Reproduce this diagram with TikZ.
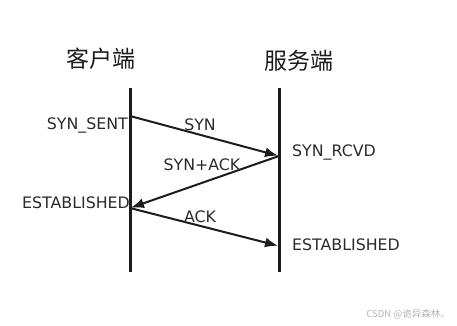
\documentclass[tikz,border=0pt]{standalone}
\usepackage{fontspec}
\setmainfont{DejaVu Sans}
\newfontfamily\cjkfont{Noto Sans CJK SC}
\usetikzlibrary{arrows.meta, positioning}
\definecolor{inkcolor}{HTML}{1C1C1C}
\definecolor{mutedtext}{HTML}{2A2A2A}
\definecolor{markcolor}{HTML}{B4B4B4}

\begin{document}
\begin{tikzpicture}[x=1pt, y=-1pt, every node/.style={font=\fontsize{15.8}{18}\selectfont, text=mutedtext, inner sep=0pt}]

\tikzset{
  timeline/.style={line width=3pt, inkcolor},
  msgline/.style={-{Latex[length=13pt, width=10pt]}, line width=2pt, inkcolor, shorten >=1pt},
  side/.style={font=\cjkfont\fontsize{23}{26}\selectfont, text=inkcolor},
  statelabel/.style={text=mutedtext},
  msglabel/.style={text=mutedtext},
  watermark/.style={font=\cjkfont\fontsize{9.5}{11}\selectfont, text=markcolor},
}

\useasboundingbox (0,0) rectangle (457,326);

% ---- the two ends ----
\coordinate (ctop) at (130,88);
\coordinate (cbot) at (130,272);
\coordinate (stop) at (279,88);
\coordinate (sbot) at (279,272);
\node[side] (client) at (101,59) {客户端};
\node[side] (server) at (299,61) {服务端};
\draw[timeline] (ctop) -- (cbot);
\draw[timeline] (stop) -- (sbot);

% ---- handshake events ----
\coordinate (c1) at (130,116);
\coordinate (s1) at (279,156);
\coordinate (c2) at (130,208);
\coordinate (s2) at (279,246);

\draw[msgline] (c1) -- (s1);
\draw[msgline] (s1) -- (c2);
\draw[msgline] (c2) -- (s2);

% ---- states ----
\node[statelabel, anchor=east] (sent) at (128,125) {SYN\_SENT};
\node[statelabel, anchor=west] (rcvd) at (292,152) {SYN\_RCVD};
\node[statelabel, anchor=east] (cest) at (130,203) {ESTABLISHED};
\node[statelabel, anchor=west] (sest) at (292,245) {ESTABLISHED};

% ---- messages ----
\node[msglabel] (syn) at (200,125) {SYN};
\node[msglabel] (synack) at (202,165) {SYN+ACK};
\node[msglabel] (ack) at (200,217) {ACK};

\node[watermark, anchor=east] (mark) at (450,314) {CSDN @诡异森林。};

\end{tikzpicture}
\end{document}
